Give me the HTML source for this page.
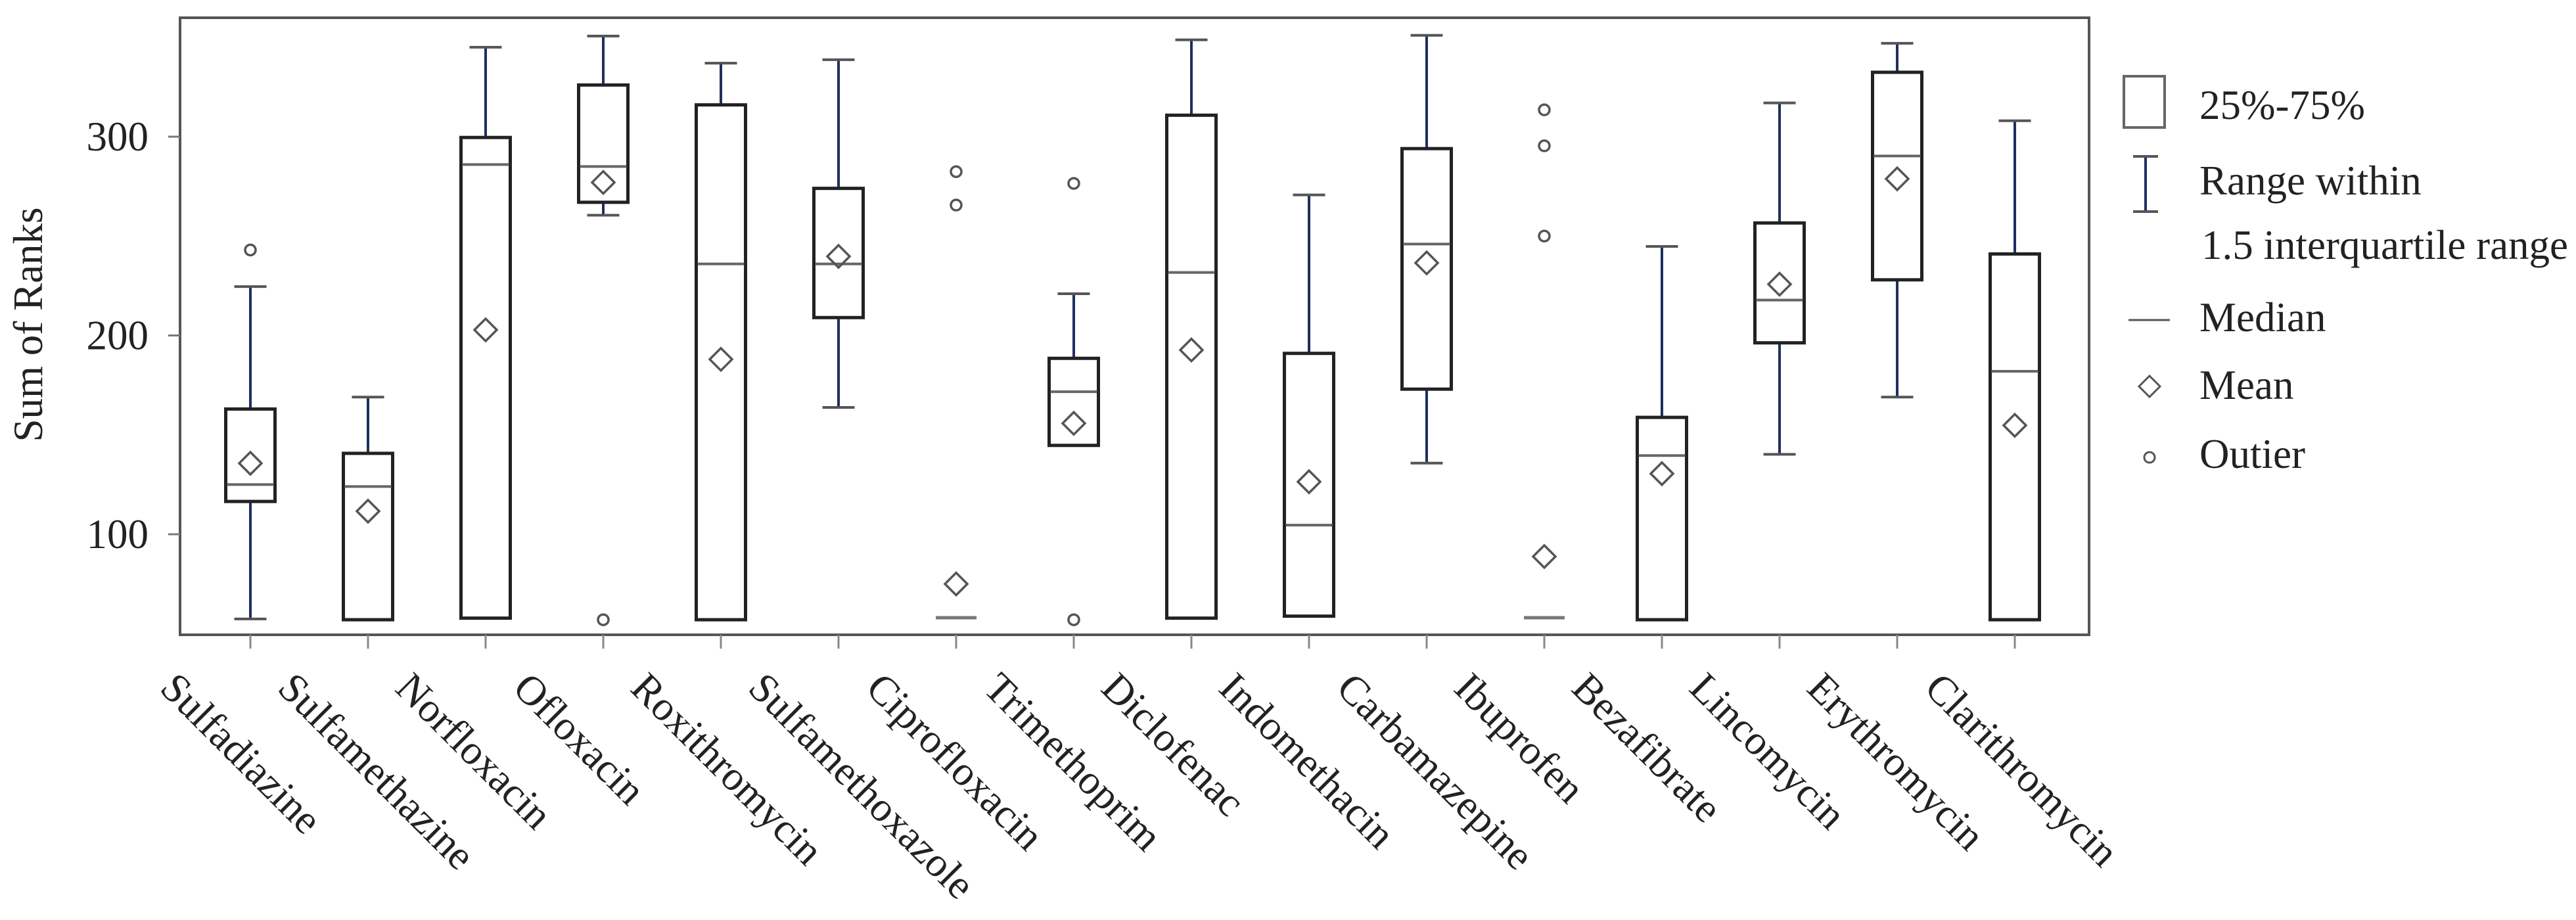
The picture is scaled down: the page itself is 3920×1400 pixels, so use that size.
<!DOCTYPE html>
<html><head><meta charset="utf-8"><style>
html,body{margin:0;padding:0;background:#fff;}
svg{display:block;font-family:"Liberation Serif","Times New Roman",serif;}
</style></head><body>
<svg id="chart" width="3920" height="1400" viewBox="0 0 3920 1400" xmlns="http://www.w3.org/2000/svg">
<g id="plot"></g>
<g id="legend">
  <rect x="3232" y="116" width="62" height="78" fill="none" stroke="#666" stroke-width="4"/>
  <text x="3347" y="181" font-size="63" fill="#222">25%-75%</text>
  <line x1="3265" y1="238" x2="3265" y2="322" stroke="#1f2f5f" stroke-width="4"/>
  <line x1="3246" y1="238" x2="3284" y2="238" stroke="#555" stroke-width="4"/>
  <line x1="3246" y1="322" x2="3284" y2="322" stroke="#555" stroke-width="4"/>
  <text x="3347" y="296" font-size="63" fill="#222">Range within</text>
  <text x="3350" y="394" font-size="63" fill="#222">1.5 interquartile range</text>
  <line x1="3239" y1="487" x2="3302" y2="487" stroke="#555" stroke-width="3"/>
  <text x="3347" y="504" font-size="63" fill="#222">Median</text>
  <polygon points="3271,572 3287,588 3271,604 3255,588" fill="none" stroke="#555" stroke-width="3"/>
  <text x="3347" y="607" font-size="63" fill="#222">Mean</text>
  <circle cx="3271" cy="696" r="8" fill="none" stroke="#555" stroke-width="3"/>
  <text x="3347" y="712" font-size="63" fill="#222">Outier</text>
</g>
</svg>
<script>
const categories = ["Sulfadiazine","Sulfamethazine","Norfloxacin","Ofloxacin","Roxithromycin","Sulfamethoxazole","Ciprofloxacin","Trimethoprim","Diclofenac","Indomethacin","Carbamazepine","Ibuprofen","Bezafibrate","Lincomycin","Erythromycin","Clarithromycin"];
const whiskerLow = [57.4,57,57.8,260.5,57,163.8,58,144.7,57.8,58.8,135.8,58,57,140.2,169,57];
const q1 =        [116.5,57,57.8,267,57,209,58,144.7,57.8,58.8,173,58,57,196.3,228,57];
const medians =   [125,124,286,285,236,236,58,171.7,231.7,104.6,246,58,139.6,217.8,290.3,182];
const q3 =        [163,140.7,299.6,326,316,274,58,188.5,310.8,191,294,58,158.8,256.6,332.4,241];
const whiskerHigh=[224.6,169,345,350.6,337,338.7,58,221,348.7,270.7,351,58,244.8,317,347,308];
const means =     [135.7,111.6,202.8,277,188,239.8,75,155.8,192.7,126.4,236.5,88.8,130.5,225.8,278.8,154.8];
const outliers =  [[243],[],[],[57],[],[],[282.4,265.6],[276.5,57],[],[],[],[313.5,295.4,250],[],[],[],[]];
const yTicks = [100,200,300];
const yTitle = "Sum of Ranks";

const NS = "http://www.w3.org/2000/svg";
const L=274,R=3179,T=27,B=966;
function yScale(v){ return 813 - (v-100)*3.025; }
function xScale(i){ return 381 + 179*i; }
const g = document.getElementById('plot');
function mk(tag, attrs, parent){
  const e=document.createElementNS(NS,tag);
  for(const k in attrs) e.setAttribute(k,attrs[k]);
  (parent||g).appendChild(e); return e;
}
let fr = mk('rect',{x:L,y:T,width:R-L,height:B-T,fill:'none',stroke:'#555','stroke-width':4});


yTicks.forEach(v=>{
  const y=yScale(v);
  const t=mk('line',{x1:L-18,y1:y,x2:L,y2:y,stroke:'#777','stroke-width':3});
  
  
  const tx=mk('text',{x:226,y:y+21,'font-size':63,'text-anchor':'end',fill:'#222'});
  tx.textContent=v;
  
  
});
const yt=mk('text',{x:0,y:0,'font-size':63,'text-anchor':'middle',fill:'#222',transform:'translate(64,494) rotate(-90)'});
yt.textContent=yTitle;



const BW=75, CW=49;
categories.forEach((c,i)=>{
  const cx=xScale(i);
  const grp=mk('g',{});
  
  
  const tk=mk('line',{x1:cx,y1:B,x2:cx,y2:B+21,stroke:'#888','stroke-width':3},grp);
  
  
  const lb=mk('text',{x:0,y:0,'font-size':63,fill:'#222',transform:'translate('+(cx-140)+',1050) rotate(45)'},grp);
  lb.textContent=c;
  
  
  const yq1=yScale(q1[i]), yq3=yScale(q3[i]);
  if(q3[i]-q1[i] > 1){
    if(whiskerHigh[i]>q3[i]){
      const w=mk('line',{x1:cx,y1:yScale(whiskerHigh[i]),x2:cx,y2:yq3,stroke:'#1f2f5f','stroke-width':4},grp);
      
      
      const cp=mk('line',{x1:cx-CW/2,y1:yScale(whiskerHigh[i]),x2:cx+CW/2,y2:yScale(whiskerHigh[i]),stroke:'#555','stroke-width':4},grp);
      
      
    }
    if(whiskerLow[i]<q1[i]-0.5){
      const w=mk('line',{x1:cx,y1:yq1,x2:cx,y2:yScale(whiskerLow[i]),stroke:'#1f2f5f','stroke-width':4},grp);
      
      
      const cp=mk('line',{x1:cx-CW/2,y1:yScale(whiskerLow[i]),x2:cx+CW/2,y2:yScale(whiskerLow[i]),stroke:'#555','stroke-width':4},grp);
      
      
    }
    const bx=mk('rect',{x:cx-BW/2,y:yq3,width:BW,height:yq1-yq3,fill:'#fff',stroke:'#222','stroke-width':5},grp);
    
    
    const md=mk('line',{x1:cx-BW/2+2,y1:yScale(medians[i]),x2:cx+BW/2-2,y2:yScale(medians[i]),stroke:'#666','stroke-width':4},grp);
    
    
  } else {
    const md=mk('line',{x1:cx-31,y1:yScale(medians[i]),x2:cx+31,y2:yScale(medians[i]),stroke:'#777','stroke-width':5},grp);
    
    
  }
  const my=yScale(means[i]), d=17;
  const mn=mk('polygon',{points:`${cx},${my-d} ${cx+d},${my} ${cx},${my+d} ${cx-d},${my}`,fill:'none',stroke:'#555','stroke-width':3.5},grp);
  
  
  outliers[i].forEach(v=>{
    const o=mk('circle',{cx:cx,cy:yScale(v),r:8,fill:'none',stroke:'#555','stroke-width':3.5},grp);
    
    
  });
});
</script>
</body></html>
